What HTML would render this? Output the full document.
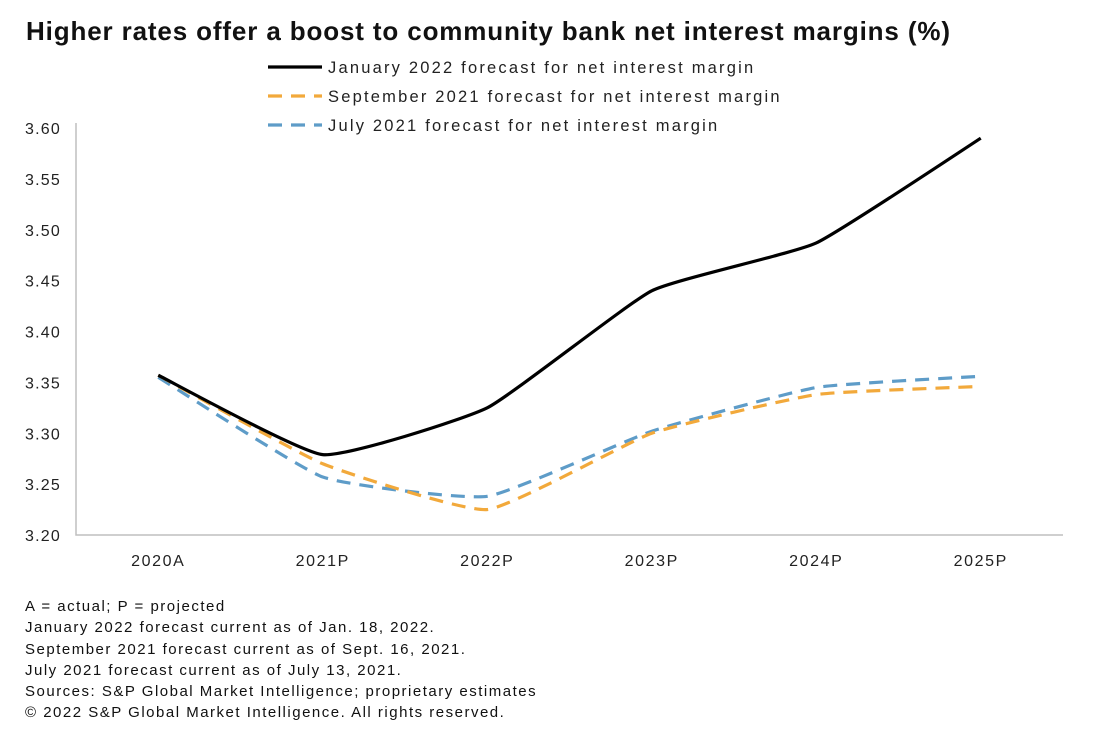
<!DOCTYPE html>
<html><head><meta charset="utf-8"><style>
body{margin:0;background:#fff;font-family:"Liberation Sans",sans-serif;}
#wrap{position:relative;width:1100px;height:744px;overflow:hidden;background:#fff;}
.notes{position:absolute;left:25px;top:596px;font-size:15px;line-height:21.3px;letter-spacing:1.5px;color:#111;}
</style></head><body>
<div id="wrap">
<svg id="chart" width="1100" height="744" style="position:absolute;left:0;top:0">
<text x="26" y="40" font-size="26" font-weight="bold" fill="#111" textLength="924" lengthAdjust="spacing">Higher rates offer a boost to community bank net interest margins (%)</text>
</svg>
<div class="notes">A = actual; P = projected<br>January 2022 forecast current as of Jan. 18, 2022.<br>September 2021 forecast current as of Sept. 16, 2021.<br>July 2021 forecast current as of July 13, 2021.<br>Sources: S&amp;P Global Market Intelligence; proprietary estimates<br>© 2022 S&amp;P Global Market Intelligence. All rights reserved.</div>
</div>
<script>
const categories=["2020A","2021P","2022P","2023P","2024P","2025P"];
const janValues=[3.357,3.279,3.325,3.440,3.487,3.590];
const sepValues=[3.357,3.270,3.225,3.300,3.338,3.346];
const julValues=[3.355,3.257,3.238,3.302,3.345,3.356];
const yTicks=[3.20,3.25,3.30,3.35,3.40,3.45,3.50,3.55,3.60];
const seriesNames=["January 2022 forecast for net interest margin","September 2021 forecast for net interest margin","July 2021 forecast for net interest margin"];

const NS="http://www.w3.org/2000/svg";
const svg=document.getElementById('chart');
const X0=76,X1=1063,Y0=535,Y1=128,YMIN=3.20,YMAX=3.60;
const band=(X1-X0)/categories.length;
function xs(i){return X0+band*(i+0.5);}
function ys(v){return Y0-(v-YMIN)/(YMAX-YMIN)*(Y0-Y1);}
function mk(t,a){const e=document.createElementNS(NS,t);for(const k in a)e.setAttribute(k,a[k]);svg.appendChild(e);return e;}

const ax=mk('path',{d:`M${X0},${Y1-5} V${Y0} H${X1}`,fill:'none',stroke:'#bfbfbf','stroke-width':1.5});


yTicks.forEach(v=>{
 const t=mk('text',{x:61,y:ys(v)+6,'text-anchor':'end','font-size':16,fill:'#222','letter-spacing':1.2});
 t.textContent=v.toFixed(2);
 
 
});
categories.forEach((c,i)=>{
 const t=mk('text',{x:xs(i),y:566,'text-anchor':'middle','font-size':16,fill:'#222','letter-spacing':1.6});
 t.textContent=c;
 
 
});
function smooth(vals){
 const p=vals.map((v,i)=>[xs(i),ys(v)]);
 let d=`M${p[0][0]},${p[0][1]}`;const k=0.07;
 for(let i=0;i<p.length-1;i++){
  const a=p[Math.max(0,i-1)],b=p[i],c=p[i+1],e=p[Math.min(p.length-1,i+2)];
  d+=` C${b[0]+(c[0]-a[0])*k},${b[1]+(c[1]-a[1])*k} ${c[0]-(e[0]-b[0])*k},${c[1]-(e[1]-b[1])*k} ${c[0]},${c[1]}`;
 }
 return d;
}
const styles=[{c:'#000',dash:'none'},{c:'#f2a93b',dash:'14 9'},{c:'#5e9cc8',dash:'14 9'}];
const all=[janValues,sepValues,julValues];
const names=['jan-2022-line','sep-2021-line','jul-2021-line'];
[2,1,0].forEach(s=>{
 const l=mk('path',{d:smooth(all[s]),fill:'none',stroke:styles[s].c,'stroke-width':3.2,'stroke-dasharray':styles[s].dash});
 
 
});
seriesNames.forEach((n,s)=>{
 const y=67+s*29;
 const l=mk('line',{x1:268,x2:322,y1:y,y2:y,stroke:styles[s].c,'stroke-width':3.2,'stroke-dasharray':styles[s].dash});
 
 
 const t=mk('text',{x:328,y:y+6,'font-size':16.5,fill:'#222','letter-spacing':2.2});
 t.textContent=n;
 
 
});
</script>
</body></html>
